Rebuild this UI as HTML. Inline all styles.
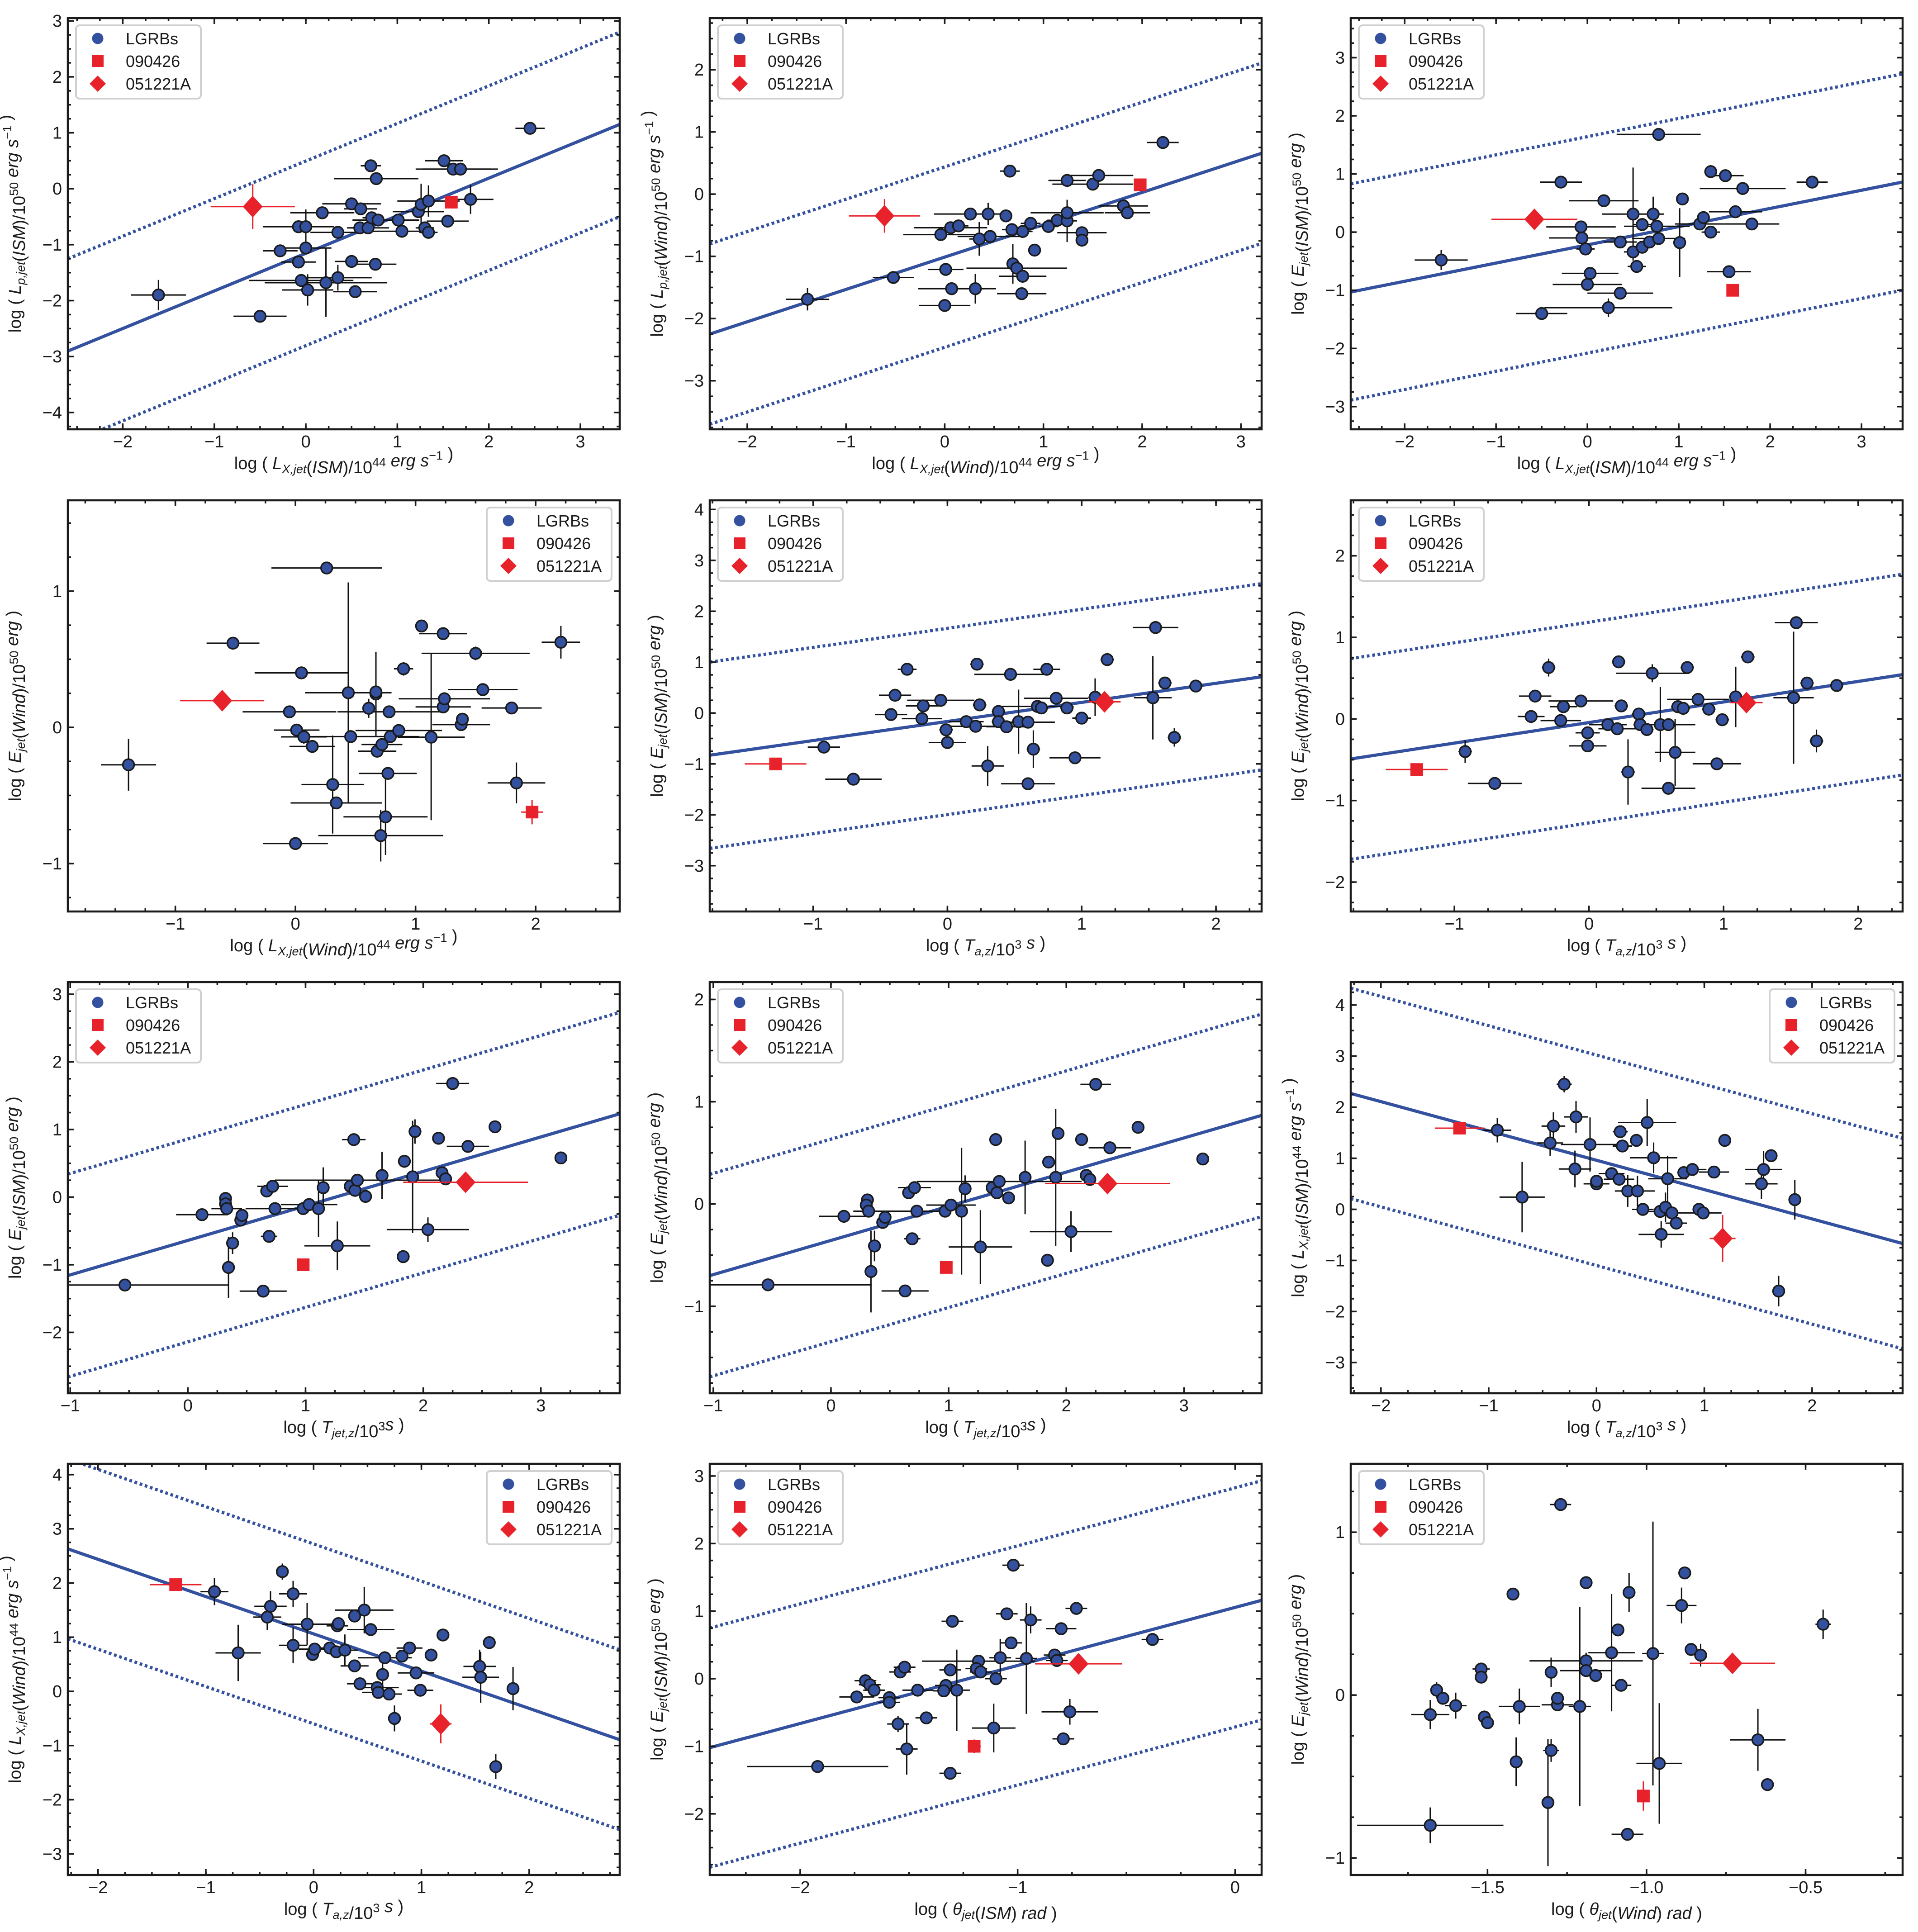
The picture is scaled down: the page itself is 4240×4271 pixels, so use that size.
<!DOCTYPE html>
<html><head><meta charset="utf-8"><title>Correlation panels</title>
<style>
html,body{margin:0;padding:0;background:#fff;}
svg{display:block;font-family:"Liberation Sans","DejaVu Sans",sans-serif;}
</style></head>
<body>
<svg id="fig" width="4240" height="4271" viewBox="0 0 4240 4271" xmlns="http://www.w3.org/2000/svg">
<rect x="0" y="0" width="4240" height="4271" fill="#fff"/>
</svg>
<script>
// ---------- Panel 1 ----------
const p1X=[-1.61,-0.50,-0.28,-0.08,-0.08,0.0,0.0,-0.05,0.02,0.18,0.35,0.22,0.35,0.50,0.50,0.54,0.60,0.59,0.68,0.71,0.72,0.77,0.79,0.76,1.01,1.05,1.23,1.26,1.30,1.34,1.34,1.51,1.61,1.69,1.55,1.80,2.45];
const p1Y=[-1.90,-2.28,-1.11,-1.31,-0.68,-0.68,-1.06,-1.64,-1.81,-0.43,-0.78,-1.68,-1.59,-0.27,-1.30,-1.84,-0.36,-0.70,-0.70,0.41,-0.52,0.18,-0.56,-1.35,-0.56,-0.76,-0.41,-0.28,-0.70,-0.22,-0.78,0.50,0.35,0.35,-0.58,-0.19,1.08];
const p1XE=[0.30,0.29,0.19,0.19,0.39,0.05,0.28,0.57,0.28,0.35,0.30,0.67,0.37,0.32,0.18,0.24,0.18,0.10,0.23,0.11,0.10,0.46,0.28,0.23,0.23,0.34,0.28,0.05,0.10,0.34,0.10,0.21,0.41,0.41,0.23,0.25,0.16];
const p1YE=[0.27,0.09,0.08,0.05,0.05,0.31,0.05,0.05,0.28,0.05,0.05,0.61,0.23,0.10,0.05,0.05,0.10,0.10,0.10,0.05,0.10,0.05,0.05,0.05,0.05,0.10,0.05,0.37,0.05,0.28,0.05,0.05,0.05,0.10,0.05,0.26,0.05];
const p1Sq=[1.59,-0.24,0.07,0.05];
const p1Di=[-0.58,-0.32,0.46,0.40];
const p1Fit=[0.672,-1.155,1.65];

// ---------- Panel 2 ----------
const p2X=[-1.39,-0.52,0,0.01,0.07,-0.04,0.06,0.14,0.26,0.31,0.35,0.46,0.44,0.62,0.66,0.68,0.69,0.73,0.79,0.78,0.79,0.87,0.91,1.05,1.14,1.24,1.24,1.24,1.50,1.56,1.39,1.39,1.81,1.85,2.21];
const p2Y=[-1.69,-1.34,-1.79,-1.21,-1.52,-0.65,-0.54,-0.51,-0.32,-1.52,-0.72,-0.68,-0.32,-0.35,0.37,-0.57,-1.12,-1.19,-1.32,-1.60,-0.60,-0.47,-0.90,-0.52,-0.42,-0.43,-0.30,0.22,0.16,0.30,-0.62,-0.74,-0.19,-0.30,0.83];
const p2XE=[0.22,0.21,0.26,0.18,0.34,0.38,0.37,0.10,0.37,0.21,0.10,0.33,0.05,0.05,0.10,0.10,0.05,0.51,0.24,0.25,0.10,0.10,0.05,0.10,0.10,0.10,0.37,0.19,0.41,0.35,0.25,0.05,0.25,0.23,0.16];
const p2YE=[0.18,0.10,0.10,0.05,0.10,0.05,0.05,0.05,0.05,0.24,0.27,0.05,0.18,0.10,0.05,0.05,0.32,0.05,0.05,0.05,0.05,0.05,0.10,0.05,0.05,0.34,0.05,0.05,0.05,0.05,0.05,0.05,0.05,0.05,0.05];
const p2Sq=[1.98,0.15,0.05,0.10];
const p2Di=[-0.61,-0.35,0.36,0.27];
const p2Fit=[0.52,-1.012,1.45];

// ---------- Panel 3 ----------
const p3X=[-1.60,-0.50,-0.29,-0.07,-0.06,-0.02,0.03,0,0.18,0.23,0.36,0.36,0.50,0.50,0.54,0.60,0.60,0.68,0.72,0.76,0.78,0.78,1.01,1.04,1.23,1.27,1.35,1.35,1.51,1.55,1.62,1.70,1.80,2.46];
const p3Y=[-0.48,-1.40,0.86,0.09,-0.10,-0.29,-0.71,-0.90,0.54,-1.30,-0.17,-1.05,0.31,-0.34,-0.59,0.13,-0.26,-0.17,0.31,0.10,1.68,-0.11,-0.18,0.57,0.14,0.25,0.0,1.04,0.97,-0.68,0.35,0.75,0.14,0.86];
const p3XE=[0.29,0.28,0.23,0.38,0.36,0.10,0.31,0.38,0.38,0.70,0.18,0.36,0.34,0.10,0.10,0.10,0.10,0.10,0.05,0.36,0.46,0.29,0.05,0.05,0.27,0.05,0.10,0.05,0.20,0.24,0.29,0.47,0.30,0.17];
const p3YE=[0.17,0.05,0.05,0.05,0.05,0.05,0.05,0.05,0.05,0.16,0.05,0.05,0.80,0.05,0.05,0.05,0.05,0.05,0.30,0.05,0.05,0.05,0.59,0.05,0.05,0.05,0.05,0.05,0.05,0.10,0.05,0.05,0.05,0.05];
const p3Sq=[1.59,-1.0,0.05,0.05];
const p3Di=[-0.58,0.22,0.47,0.05];
const p3Fit=[0.313,-0.219,1.86];

// ---------- Panel 4 ----------
const p4X=[-1.39,-0.52,-0.05,0.01,0.07,0.14,0,0.05,0.26,0.31,0.34,0.44,0.46,0.61,0.67,0.67,0.68,0.72,0.71,0.75,0.77,0.78,0.79,0.86,0.90,1.05,1.13,1.23,1.23,1.24,1.38,1.39,1.50,1.56,1.80,1.84,2.21];
const p4Y=[-0.275,0.618,0.114,-0.02,-0.07,-0.14,-0.853,0.40,1.17,-0.42,-0.555,0.254,-0.068,0.14,0.245,0.26,-0.175,-0.126,-0.795,-0.657,-0.338,0.114,-0.068,-0.023,0.43,0.744,-0.072,0.688,0.15,0.21,0.02,0.06,0.543,0.277,0.142,-0.408,0.625];
const p4XE=[0.23,0.22,0.39,0.19,0.19,0.19,0.27,0.39,0.46,0.26,0.38,0.36,0.44,0.05,0.05,0.05,0.16,0.17,0.52,0.35,0.24,0.43,0.24,0.36,0.08,0.03,0.28,0.20,0.23,0.38,0.24,0.05,0.45,0.29,0.25,0.24,0.16];
const p4YE=[0.19,0.03,0.03,0.03,0.05,0.03,0.03,0.03,0.03,0.36,0.03,0.81,0.03,0.07,0.31,0.03,0.03,0.03,0.19,0.28,0.03,0.03,0.03,0.03,0.05,0.03,0.61,0.03,0.03,0.03,0.03,0.03,0.05,0.03,0.03,0.15,0.12];
const p4Sq=[1.97,-0.622,0.09,0.09];
const p4Di=[-0.61,0.196,0.35,0.03];
const p4Fit=null;

// ---------- Panel 5 ----------
const p5X=[-0.92,-0.70,-0.42,-0.39,-0.30,-0.19,-0.18,-0.05,0,-0.01,0.14,0.21,0.22,0.24,0.30,0.38,0.38,0.44,0.47,0.53,0.60,0.60,0.64,0.67,0.70,0.74,0.81,0.89,0.95,1.0,1.10,1.19,1.53,1.55,1.62,1.69,1.85];
const p5Y=[-0.67,-1.30,-0.03,0.35,0.86,-0.11,0.14,0.25,-0.58,-0.33,-0.17,-0.26,0.96,0.16,-1.04,0.03,-0.17,-0.27,0.76,-0.17,-0.18,-1.39,-0.71,0.13,0.10,0.86,0.29,0.10,-0.88,-0.10,0.31,1.05,0.30,1.68,0.59,-0.48,0.53];
const p5XE=[0.12,0.21,0.12,0.12,0.07,0.15,0.13,0.25,0.14,0.05,0.13,0.20,0.05,0.05,0.12,0.05,0.05,0.15,0.27,0.05,0.20,0.20,0.05,0.27,0.05,0.10,0.24,0.05,0.19,0.07,0.05,0.05,0.14,0.17,0.05,0.05,0.05];
const p5YE=[0.05,0.05,0.05,0.05,0.05,0.05,0.05,0.05,0.05,0.05,0.05,0.05,0.05,0.05,0.39,0.05,0.05,0.05,0.05,0.63,0.05,0.05,0.37,0.05,0.05,0.05,0.05,0.05,0.05,0.05,0.37,0.05,0.82,0.05,0.05,0.18,0.05];
const p5Sq=[-1.28,-1.0,0.23,0.05];
const p5Di=[1.17,0.22,0.12,0.05];
const p5Fit=[0.375,-0.166,1.83];

// ---------- Panel 6 ----------
const p6X=[-0.92,-0.70,-0.43,-0.40,-0.30,-0.21,-0.19,-0.06,-0.01,-0.01,0.14,0.21,0.22,0.24,0.29,0.37,0.38,0.43,0.47,0.53,0.59,0.59,0.64,0.66,0.70,0.73,0.81,0.89,0.95,0.99,1.09,1.18,1.52,1.54,1.62,1.69,1.84];
const p6Y=[-0.40,-0.79,0.03,0.28,0.63,-0.02,0.15,0.22,-0.17,-0.33,-0.07,-0.12,0.70,0.16,-0.65,0.06,-0.07,-0.13,0.56,-0.07,-0.07,-0.85,-0.41,0.15,0.13,0.63,0.24,0.12,-0.55,-0.01,0.27,0.76,0.26,1.18,0.44,-0.27,0.41];
const p6XE=[0.05,0.20,0.10,0.12,0.05,0.15,0.10,0.24,0.09,0.14,0.14,0.14,0.05,0.05,0.05,0.05,0.05,0.05,0.27,0.05,0.20,0.20,0.15,0.05,0.05,0.05,0.23,0.05,0.18,0.05,0.05,0.05,0.15,0.16,0.05,0.05,0.05];
const p6YE=[0.14,0.05,0.05,0.05,0.11,0.05,0.05,0.05,0.05,0.05,0.05,0.05,0.05,0.05,0.40,0.05,0.05,0.05,0.11,0.46,0.05,0.05,0.41,0.05,0.05,0.05,0.05,0.05,0.05,0.05,0.37,0.05,0.81,0.05,0.05,0.14,0.05];
const p6Sq=[-1.28,-0.62,0.23,0.05];
const p6Di=[1.17,0.20,0.12,0.05];
const p6Fit=[0.252,-0.044,1.23];

// ---------- Panel 7 ----------
const p7X=[-0.535,0.12,0.32,0.32,0.33,0.345,0.38,0.45,0.46,0.64,0.67,0.69,0.72,0.74,0.98,1.03,1.11,1.15,1.27,1.38,1.41,1.42,1.44,1.51,1.65,1.83,1.84,1.91,1.93,2.04,2.13,2.16,2.19,2.25,2.38,2.61,3.17];
const p7Y=[-1.30,-0.26,-0.02,-0.10,-0.17,-1.04,-0.68,-0.34,-0.27,-1.39,0.09,-0.58,0.16,-0.17,-0.17,-0.11,-0.17,0.14,-0.72,0.16,0.85,0.10,0.25,0.01,0.32,-0.88,0.53,0.30,0.97,-0.48,0.87,0.36,0.27,1.68,0.75,1.04,0.58];
const p7XE=[0.88,0.22,0.05,0.05,0.13,0.05,0.05,0.05,0.05,0.20,0.05,0.07,0.13,0.25,0.05,0.24,0.05,0.05,0.28,0.05,0.10,0.05,0.70,0.05,0.05,0.05,0.05,0.05,0.05,0.35,0.05,0.05,0.05,0.14,0.18,0.05,0.05];
const p7YE=[0.05,0.05,0.05,0.05,0.05,0.45,0.16,0.05,0.05,0.05,0.05,0.05,0.05,0.05,0.05,0.05,0.42,0.30,0.36,0.05,0.05,0.05,0.05,0.05,0.35,0.05,0.05,0.83,0.18,0.18,0.05,0.05,0.05,0.05,0.05,0.05,0.05];
const p7Sq=[0.98,-1.0,0.05,0.05];
const p7Di=[2.36,0.22,0.53,0.05];
const p7Fit=[0.51,-0.64,1.5];

// ---------- Panel 8 ----------
const p8X=[-0.535,0.11,0.31,0.30,0.32,0.34,0.37,0.44,0.46,0.63,0.66,0.69,0.71,0.73,0.97,1.02,1.11,1.14,1.27,1.37,1.40,1.41,1.43,1.51,1.65,1.84,1.85,1.91,1.93,2.04,2.13,2.17,2.20,2.25,2.37,2.61,3.16];
const p8Y=[-0.79,-0.12,0.04,-0.01,-0.07,-0.66,-0.41,-0.18,-0.13,-0.85,0.11,-0.34,0.16,-0.07,-0.07,-0.01,-0.07,0.15,-0.42,0.16,0.63,0.11,0.22,0.06,0.26,-0.55,0.41,0.26,0.69,-0.27,0.63,0.28,0.24,1.17,0.55,0.75,0.44];
const p8XE=[0.88,0.21,0.05,0.05,0.13,0.05,0.05,0.05,0.05,0.20,0.05,0.07,0.14,0.28,0.05,0.21,0.05,0.05,0.27,0.05,0.05,0.05,0.70,0.05,0.05,0.05,0.05,0.05,0.05,0.35,0.05,0.05,0.05,0.13,0.18,0.05,0.05];
const p8YE=[0.05,0.05,0.05,0.05,0.05,0.40,0.15,0.05,0.05,0.05,0.05,0.05,0.05,0.05,0.05,0.05,0.62,0.13,0.36,0.05,0.05,0.05,0.05,0.05,0.36,0.05,0.05,0.67,0.05,0.20,0.05,0.05,0.05,0.05,0.05,0.05,0.05];
const p8Sq=[0.98,-0.62,0.05,0.05];
const p8Di=[2.35,0.20,0.53,0.05];
const p8Fit=[0.334,-0.356,0.99];

// ---------- Panel 9 ----------
const p9X=[-0.92,-0.69,-0.43,-0.40,-0.30,-0.20,-0.19,-0.06,0,0,0.14,0.21,0.22,0.24,0.29,0.37,0.38,0.43,0.47,0.53,0.59,0.60,0.64,0.66,0.70,0.74,0.81,0.89,0.95,0.99,1.09,1.19,1.53,1.55,1.62,1.69,1.84];
const p9Y=[1.55,0.24,1.30,1.63,2.45,0.79,1.81,1.27,0.50,0.55,0.70,0.59,1.52,1.24,0.36,1.35,0.36,0.0,1.70,1.01,-0.04,-0.49,0.04,0.60,-0.07,-0.27,0.72,0.78,0.0,-0.07,0.73,1.35,0.50,0.78,1.05,-1.60,0.19];
const p9XE=[0.13,0.21,0.12,0.11,0.07,0.15,0.11,0.27,0.12,0.05,0.12,0.14,0.07,0.09,0.12,0.05,0.16,0.10,0.27,0.22,0.14,0.21,0.05,0.18,0.13,0.10,0.05,0.13,0.05,0.17,0.14,0.05,0.15,0.17,0.05,0.05,0.06];
const p9YE=[0.24,0.69,0.25,0.27,0.16,0.36,0.31,0.53,0.05,0.05,0.05,0.05,0.05,0.05,0.31,0.05,0.30,0.05,0.46,0.30,0.05,0.26,0.29,0.45,0.05,0.05,0.05,0.05,0.05,0.05,0.05,0.05,0.30,0.36,0.05,0.30,0.39];
const p9Sq=[-1.27,1.59,0.23,0.05];
const p9Di=[1.17,-0.57,0.12,0.46];
const p9Fit=[-0.574,0.961,2.06];

// ---------- Panel 10 ----------
const p10X=[-0.92,-0.70,-0.43,-0.40,-0.29,-0.19,-0.19,-0.06,-0.01,0.01,0.15,0.21,0.22,0.23,0.29,0.38,0.38,0.43,0.47,0.53,0.59,0.60,0.64,0.66,0.70,0.75,0.82,0.89,0.95,0.99,1.09,1.20,1.54,1.55,1.63,1.69,1.85];
const p10Y=[1.84,0.71,1.37,1.57,2.21,0.85,1.80,1.24,0.68,0.78,0.80,0.73,1.21,1.25,0.76,1.39,0.47,0.14,1.50,1.14,0.07,-0.02,0.31,0.62,-0.05,-0.50,0.65,0.80,0.34,0.02,0.67,1.04,0.46,0.26,0.90,-1.39,0.05];
const p10XE=[0.13,0.21,0.13,0.15,0.05,0.13,0.13,0.23,0.05,0.15,0.13,0.05,0.10,0.05,0.12,0.05,0.13,0.12,0.27,0.22,0.20,0.15,0.05,0.25,0.12,0.05,0.05,0.12,0.17,0.12,0.05,0.05,0.15,0.17,0.05,0.05,0.05];
const p10YE=[0.25,0.52,0.24,0.28,0.15,0.33,0.24,0.39,0.05,0.05,0.05,0.05,0.05,0.05,0.29,0.05,0.05,0.05,0.43,0.05,0.05,0.05,0.29,0.05,0.05,0.24,0.05,0.05,0.05,0.05,0.05,0.05,0.31,0.47,0.05,0.23,0.40];
const p10Sq=[-1.28,1.97,0.24,0.05];
const p10Di=[1.18,-0.60,0.10,0.36];
const p10Fit=[-0.688,1.061,1.66];

// ---------- Panel 11 ----------
const p11X=[-1.92,-1.74,-1.70,-1.68,-1.66,-1.59,-1.59,-1.55,-1.54,-1.52,-1.51,-1.46,-1.42,-1.33,-1.34,-1.31,-1.31,-1.30,-1.28,-1.18,-1.19,-1.17,-1.11,-1.10,-1.08,-1.05,-1.03,-1.02,-0.96,-0.94,-0.83,-0.82,-0.80,-0.79,-0.76,-0.73,-0.38];
const p11Y=[-1.30,-0.27,-0.03,-0.09,-0.17,-0.28,-0.35,-0.67,0.10,0.17,-1.04,-0.17,-0.58,-0.10,-0.18,-1.40,0.13,0.85,-0.17,0.26,0.15,0.10,-0.73,0.0,0.31,0.96,0.53,1.68,0.30,0.87,0.35,0.27,0.74,-0.89,-0.49,1.04,0.58];
const p11XE=[0.325,0.08,0.05,0.05,0.05,0.05,0.05,0.05,0.05,0.05,0.05,0.07,0.05,0.05,0.05,0.05,0.05,0.05,0.06,0.26,0.05,0.05,0.10,0.05,0.05,0.05,0.05,0.05,0.05,0.05,0.05,0.05,0.07,0.05,0.13,0.05,0.05];
const p11YE=[0.05,0.05,0.05,0.05,0.05,0.05,0.05,0.12,0.05,0.05,0.38,0.05,0.05,0.05,0.05,0.09,0.05,0.08,0.60,0.05,0.05,0.05,0.36,0.05,0.28,0.05,0.05,0.05,0.82,0.20,0.05,0.05,0.05,0.05,0.19,0.05,0.05];
const p11Sq=[-1.20,-1.0,0.03,0.10];
const p11Di=[-0.72,0.22,0.20,0.05];
const p11Fit=[0.859,1.055,1.77];

// ---------- Panel 12 ----------
const p12X=[-1.68,-1.68,-1.66,-1.64,-1.60,-1.52,-1.52,-1.51,-1.50,-1.42,-1.41,-1.40,-1.31,-1.30,-1.30,-1.28,-1.28,-1.27,-1.21,-1.19,-1.19,-1.19,-1.16,-1.11,-1.09,-1.08,-1.06,-1.055,-0.98,-0.96,-0.89,-0.88,-0.86,-0.83,-0.65,-0.62,-0.445];
const p12Y=[-0.80,-0.12,0.03,-0.02,-0.065,0.16,0.11,-0.135,-0.17,0.62,-0.41,-0.07,-0.66,0.14,-0.34,-0.06,-0.02,1.17,-0.07,0.21,0.15,0.69,0.12,0.26,0.40,0.06,-0.855,0.63,0.255,-0.42,0.55,0.75,0.28,0.245,-0.275,-0.55,0.435];
const p12XE=[0.23,0.06,0.02,0.02,0.034,0.027,0.02,0.02,0.02,0.02,0.02,0.065,0.02,0.02,0.025,0.05,0.02,0.033,0.035,0.178,0.082,0.02,0.02,0.073,0.02,0.032,0.05,0.02,0.034,0.072,0.047,0.02,0.02,0.02,0.087,0.02,0.024];
const p12YE=[0.11,0.09,0.05,0.02,0.08,0.02,0.02,0.04,0.02,0.02,0.15,0.11,0.39,0.09,0.07,0.03,0.02,0.02,0.61,0.05,0.03,0.03,0.02,0.36,0.02,0.03,0.02,0.12,0.81,0.37,0.11,0.02,0.02,0.07,0.19,0.02,0.09];
const p12Sq=[-1.01,-0.62,0.02,0.09];
const p12Di=[-0.73,0.195,0.134,0.06];
const p12Fit=null;

// ---------- axis labels ----------
const IT='font-style="italic"';
function sub(t){return '<tspan '+IT+' font-size="27" dy="9">'+t+'</tspan><tspan dy="-9"></tspan>';}
function sup(t){return '<tspan font-size="27" dy="-15">'+t+'</tspan><tspan dy="15"></tspan>';}
function it(t){return '<tspan '+IT+'>'+t+'</tspan>';}
const LAB={
 lpISM:'log ( '+it('L')+sub('p,jet')+'('+it('ISM')+')/10'+sup('50')+' '+it('erg s')+sup('−1')+' )',
 lpW:'log ( '+it('L')+sub('p,jet')+'('+it('Wind')+')/10'+sup('50')+' '+it('erg s')+sup('−1')+' )',
 lxISM:'log ( '+it('L')+sub('X,jet')+'('+it('ISM')+')/10'+sup('44')+' '+it('erg s')+sup('−1')+' )',
 lxW:'log ( '+it('L')+sub('X,jet')+'('+it('Wind')+')/10'+sup('44')+' '+it('erg s')+sup('−1')+' )',
 eISM:'log ( '+it('E')+sub('jet')+'('+it('ISM')+')/10'+sup('50')+' '+it('erg')+' )',
 eW:'log ( '+it('E')+sub('jet')+'('+it('Wind')+')/10'+sup('50')+' '+it('erg')+' )',
 ta:'log ( '+it('T')+sub('a,z')+'/10'+sup('3')+' '+it('s')+' )',
 tj:'log ( '+it('T')+sub('jet,z')+'/10'+sup('3')+it('s')+' )',
 thISM:'log ( '+it('θ')+sub('jet')+'('+it('ISM')+') '+it('rad')+' )',
 thW:'log ( '+it('θ')+sub('jet')+'('+it('Wind')+') '+it('rad')+' )'
};

const NS='http://www.w3.org/2000/svg';
const svg=document.getElementById('fig');
const COLS=[150,1569,2986], ROWS=[40,1106,2171,3236], PW=1220, PH=909;
const BLUE='#34519f', RED='#e8222a', EDGE='#1b1b1b';
function mk(tag,attrs,parent){const e=document.createElementNS(NS,tag);for(const k in attrs)e.setAttribute(k,attrs[k]);(parent||svg).appendChild(e);return e;}
function fmt(v,dec){let s=dec?v.toFixed(dec):String(Math.round(v));if(s.startsWith('-'))s='−'+s.slice(1);if(s==='−0'||s==='−0.0')s=s.slice(1);return s;}

function drawPanel(n,col,row,xr,yr,xMaj,yMaj,xDec,X,Y,XE,YE,SQ,DI,FIT,legRight,xl,yl){
  const L=COLS[col],T=ROWS[row],R=L+PW,B=T+PH;
  const sx=v=>L+(v-xr[0])/(xr[1]-xr[0])*PW;
  const sy=v=>B-(v-yr[0])/(yr[1]-yr[0])*PH;
  const g=mk('g',{});
  
  
  const cp=mk('clipPath',{id:'cp'+n},g);
  mk('rect',{x:L,y:T,width:PW,height:PH},cp);
  const plot=mk('g',{'clip-path':'url(#cp'+n+')'},g);
  
  
  if(FIT){
    const m=FIT[0],b=FIT[1],d=FIT[2];
    [[0,'fit-line',null],[d,'upper-bound-line','6 6'],[-d,'lower-bound-line','6 6']].forEach(s=>{
      const ln=mk('line',{x1:sx(xr[0]),y1:sy(m*xr[0]+b+s[0]),x2:sx(xr[1]),y2:sy(m*xr[1]+b+s[0]),stroke:BLUE,'stroke-width':7},plot);
      if(s[2])ln.setAttribute('stroke-dasharray',s[2]);
      
      
    });
  }
  function err(x,y,xe,ye,color){
    if(xe>0){const e=mk('line',{x1:sx(x-xe),y1:sy(y),x2:sx(x+xe),y2:sy(y),stroke:color,'stroke-width':3},plot);
      
      }
    if(ye>0){const e=mk('line',{x1:sx(x),y1:sy(y-ye),x2:sx(x),y2:sy(y+ye),stroke:color,'stroke-width':3},plot);
      
      }
  }
  for(let i=0;i<X.length;i++)err(X[i],Y[i],XE[i],YE[i],'#111');
  for(let i=0;i<X.length;i++){
    const c=mk('circle',{cx:sx(X[i]),cy:sy(Y[i]),r:12.5,fill:BLUE,stroke:EDGE,'stroke-width':3.5},plot);
    
    
  }
  err(SQ[0],SQ[1],SQ[2],SQ[3],RED);
  const sq=mk('rect',{x:sx(SQ[0])-14,y:sy(SQ[1])-14,width:28,height:28,fill:RED},plot);
  
  
  err(DI[0],DI[1],DI[2],DI[3],RED);
  const dx=sx(DI[0]),dy=sy(DI[1]);
  const di=mk('polygon',{points:(dx-22)+','+dy+' '+dx+','+(dy-24)+' '+(dx+22)+','+dy+' '+dx+','+(dy+24),fill:RED},plot);
  
  

  const tg=mk('g',{stroke:'#1b1b1b','stroke-width':3.5},g);
  
  
  function ticks(r,step,len,isX){
    const s0=Math.ceil(r[0]/step-1e-9)*step;
    for(let v=s0;v<=r[1]+1e-9;v+=step){
      if(isX){const p=sx(v);mk('line',{x1:p,y1:B,x2:p,y2:B-len},tg);mk('line',{x1:p,y1:T,x2:p,y2:T+len},tg);}
      else{const p=sy(v);mk('line',{x1:L,y1:p,x2:L+len,y2:p},tg);mk('line',{x1:R,y1:p,x2:R-len,y2:p},tg);}
    }
  }
  ticks(xr,0.25,7,true);ticks(yr,0.25,7,false);
  ticks(xr,xMaj,13,true);ticks(yr,yMaj,13,false);
  const x0=Math.ceil(xr[0]/xMaj-1e-9)*xMaj;
  for(let v=x0;v<=xr[1]+1e-9;v+=xMaj){
    const t=mk('text',{x:sx(v),y:B+40,'text-anchor':'middle','font-size':38,fill:'#1b1b1b'},g);
    t.textContent=fmt(v,xDec);
    
    
  }
  const y0=Math.ceil(yr[0]/yMaj-1e-9)*yMaj;
  for(let v=y0;v<=yr[1]+1e-9;v+=yMaj){
    const t=mk('text',{x:L-13,y:sy(v)+13,'text-anchor':'end','font-size':38,fill:'#1b1b1b'},g);
    t.textContent=fmt(v,0);
    
    
  }
  const fr=mk('rect',{x:L,y:T,width:PW,height:PH,fill:'none',stroke:'#1b1b1b','stroke-width':4.5},g);
  
  
  const xt=mk('text',{x:L+PW/2,y:B+88,'text-anchor':'middle','font-size':38,fill:'#1b1b1b'},g);
  xt.innerHTML=xl;
  
  
  const yt=mk('text',{x:0,y:0,'text-anchor':'middle','font-size':38,fill:'#1b1b1b',transform:'translate('+(L-104)+','+(T+PH/2)+') rotate(-90)'},g);
  yt.innerHTML=yl;
  
  
  const lx=legRight?R-18-276:L+18, ly=T+16;
  const lg=mk('g',{},g);
  
  
  mk('rect',{x:lx,y:ly,width:276,height:162,rx:8,fill:'#fff','fill-opacity':0.85,stroke:'#d0d0d0','stroke-width':4},lg);
  const mx=lx+48, tx=lx+110;
  const e1=mk('circle',{cx:mx,cy:ly+29,r:12.5,fill:BLUE},lg);
  
  
  const e2=mk('rect',{x:mx-13,y:ly+66,width:26,height:26,fill:RED},lg);
  
  
  const e3=mk('polygon',{points:(mx-18)+','+(ly+129)+' '+mx+','+(ly+111)+' '+(mx+18)+','+(ly+129)+' '+mx+','+(ly+147),fill:RED},lg);
  
  
  [['LGRBs',29],['090426',79],['051221A',129]].forEach(a=>{
    const t=mk('text',{x:tx,y:ly+a[1]+13,'font-size':36,fill:'#1b1b1b'},lg);
    t.textContent=a[0];
    
    
  });
}

drawPanel(1,0,0,[-2.6,3.43],[-4.3,3.05],1,1,0,p1X,p1Y,p1XE,p1YE,p1Sq,p1Di,p1Fit,false,LAB.lxISM,LAB.lpISM);
drawPanel(2,1,0,[-2.38,3.21],[-3.78,2.83],1,1,0,p2X,p2Y,p2XE,p2YE,p2Sq,p2Di,p2Fit,false,LAB.lxW,LAB.lpW);
drawPanel(3,2,0,[-2.59,3.45],[-3.39,3.68],1,1,0,p3X,p3Y,p3XE,p3YE,p3Sq,p3Di,p3Fit,false,LAB.lxISM,LAB.eISM);
drawPanel(4,0,1,[-1.895,2.70],[-1.352,1.667],1,1,0,p4X,p4Y,p4XE,p4YE,p4Sq,p4Di,p4Fit,true,LAB.lxW,LAB.eW);
drawPanel(5,1,1,[-1.77,2.34],[-3.90,4.18],1,1,0,p5X,p5Y,p5XE,p5YE,p5Sq,p5Di,p5Fit,false,LAB.ta,LAB.eISM);
drawPanel(6,2,1,[-1.77,2.33],[-2.36,2.68],1,1,0,p6X,p6Y,p6XE,p6YE,p6Sq,p6Di,p6Fit,false,LAB.ta,LAB.eW);
drawPanel(7,0,2,[-1.02,3.67],[-2.90,3.18],1,1,0,p7X,p7Y,p7XE,p7YE,p7Sq,p7Di,p7Fit,false,LAB.tj,LAB.eISM);
drawPanel(8,1,2,[-1.03,3.66],[-1.85,2.17],1,1,0,p8X,p8Y,p8XE,p8YE,p8Sq,p8Di,p8Fit,false,LAB.tj,LAB.eW);
drawPanel(9,2,2,[-2.28,2.84],[-3.60,4.45],1,1,0,p9X,p9Y,p9XE,p9YE,p9Sq,p9Di,p9Fit,true,LAB.ta,LAB.lxISM);
drawPanel(10,0,3,[-2.28,2.84],[-3.39,4.20],1,1,0,p10X,p10Y,p10XE,p10YE,p10Sq,p10Di,p10Fit,true,LAB.ta,LAB.lxW);
drawPanel(11,1,3,[-2.416,0.122],[-2.905,3.18],1,1,0,p11X,p11Y,p11XE,p11YE,p11Sq,p11Di,p11Fit,false,LAB.thISM,LAB.eISM);
drawPanel(12,2,3,[-1.93,-0.195],[-1.105,1.42],0.5,1,1,p12X,p12Y,p12XE,p12YE,p12Sq,p12Di,p12Fit,false,LAB.thW,LAB.eW);
</script>
</body></html>
